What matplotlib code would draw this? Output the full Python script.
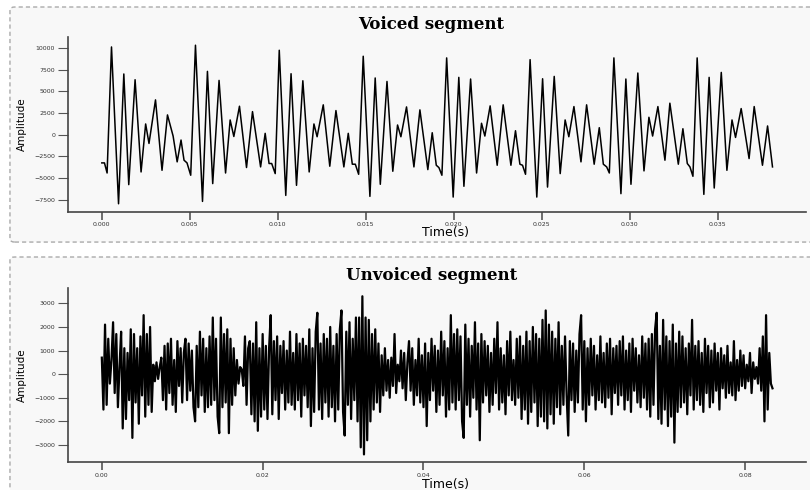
import numpy as np
import matplotlib
matplotlib.use('Agg')
import matplotlib.pyplot as plt
from matplotlib.patches import FancyBboxPatch

# voiced segment: extrema (time in s, amplitude)
voiced_t = [0.00000, 0.00015, 0.00030, 0.00055, 0.00095, 0.00125, 0.00153, 0.00189, 0.00223, 0.00249,
            0.00268, 0.00305, 0.00342, 0.00373, 0.00405, 0.00428, 0.00450, 0.00467, 0.00484, 0.00505,
            0.00532, 0.00572, 0.00600, 0.00630, 0.00666, 0.00703, 0.00729, 0.00750, 0.00782, 0.00822,
            0.00856, 0.00902, 0.00928, 0.00950, 0.00965, 0.00985, 0.01008, 0.01045, 0.01075, 0.01106,
            0.01142, 0.01178, 0.01205, 0.01223, 0.01258, 0.01295, 0.01330, 0.01375, 0.01400, 0.01423,
            0.01440, 0.01459, 0.01485, 0.01523, 0.01553, 0.01582, 0.01620, 0.01653, 0.01680, 0.01699,
            0.01731, 0.01773, 0.01807, 0.01852, 0.01877, 0.01900, 0.01915, 0.01932, 0.01959, 0.01996,
            0.02028, 0.02057, 0.02095, 0.02129, 0.02157, 0.02176, 0.02206, 0.02246, 0.02280, 0.02324,
            0.02350, 0.02375, 0.02390, 0.02407, 0.02433, 0.02471, 0.02504, 0.02532, 0.02570, 0.02604,
            0.02632, 0.02653, 0.02682, 0.02722, 0.02754, 0.02797, 0.02826, 0.02849, 0.02868, 0.02883,
            0.02909, 0.02949, 0.02977, 0.03006, 0.03045, 0.03080, 0.03108, 0.03129, 0.03159, 0.03199,
            0.03227, 0.03275, 0.03301, 0.03326, 0.03341, 0.03358, 0.03382, 0.03420, 0.03450, 0.03479,
            0.03519, 0.03551, 0.03580, 0.03600, 0.03632, 0.03677, 0.03706, 0.03753, 0.03782, 0.03810]
voiced_amp = [-3240, -3240, -4400, 10100, -7940, 6990, -5740, 6330, -4280, 1240,
              -1000, 4010, -4090, 2280, -150, -3120, -610, -2930, -3240, -4660,
              10300, -7670, 7290, -5620, 6250, -4400, 1700, -200, 3280, -3770,
              2660, -3700, 160, -3310, -3310, -4470, 9720, -6980, 7020, -5820,
              6210, -4280, 1240, -230, 3440, -3620, 2780, -3700, 160, -3390,
              -3390, -4550, 9030, -7090, 6530, -5700, 6130, -4200, 1120, -230,
              3200, -3700, 2860, -4010, 230, -3510, -3780, -4660, 8840, -7170,
              6600, -5930, 6410, -4400, 1320, -150, 3320, -3510, 3440, -3510,
              460, -3390, -3510, -4550, 8640, -7170, 6440, -6020, 6710, -4470,
              1700, -230, 3240, -3120, 3440, -3390, 810, -3390, -3700, -4400,
              8840, -6780, 6410, -5700, 7100, -4160, 2010, -150, 3240, -2930,
              3630, -3390, 690, -3310, -3700, -4780, 8840, -6860, 6600, -6130,
              7170, -4090, 1700, -310, 3010, -2740, 3240, -3510, 1010, -3700]

# unvoiced segment: one value every 0.2 ms
unvoiced_step = 0.0002
unvoiced_amp = [
    700, -1500, 2100, -1300, 1500, -400, 600, 2200, -800, 1700, -1400, 300, 1800, -2300, 1100, -1900, 900, -1100, 1900, -2700,
    1700, -1200, 1100, -2100, 1600, -900, 2500, -1800, 1700, -1300, 2000, -1600, 400, -300, 500, -200, 300, 700, -1100, 1200,
    -1500, 1300, -800, 1500, -1300, 600, -1600, 1400, -500, 1100, -1200, 900, 1500, -1100, 1300, -700, 1000, -1400, -2000, 1200,
    -1400, 1800, -900, 1500, -1600, 1100, -1400, 1600, -1300, 2400, -1100, 1500, -1800, -2500, 2400, -1400, 1700, -1200, 1900, -2500,
    1500, -1300, 1100, -900, 600, -400, 300, 200, -500, 1600, -1300, 1100, 1400, -1700, 1300, -2000, 2200, -2400, 1100, -1800,
    1700, -1500, 1200, -1900, 1100, 2500, -1700, 1400, -1100, 1600, -1900, 1200, -800, 1400, -1500, 1000, -1200, 1800, -1300, 900,
    -1500, 1700, -1100, 1300, -1800, 1500, -900, 1200, -1400, 1900, -2200, 1100, -1600, 1800, 2600, -1500, 1300, -1900, 1700, -1200,
    1500, -1800, 2000, -1400, 1200, -2000, 1700, -1500, 1900, 2700, -1600, -2600, 1800, -1300, 2200, -1900, 1500, -1100, 2400, -2000,
    2400, -3100, 3300, -3400, 2400, -2800, 2300, -2000, 1700, -1500, 1900, -1200, 1300, -1600, 800, -900, 1100, -700, 600, -1000,
    700, -500, 1700, -800, 400, -300, 1000, -600, 900, -1100, 500, 1400, -700, 1100, -1300, 600, -900, 1500, -1200, 800,
    -1400, 1300, -2200, 900, -1100, 1500, -700, 1200, -1600, 1000, -1300, 1800, -900, 1400, -1800, 1100, -1500, 2500, -1200, 1700,
    -1500, 1900, -1100, 1600, -2000, -2700, 2100, -1300, 1500, -1800, 1200, -1000, 2200, -1500, 1300, -2800, 1700, -1200, 1400, -900,
    1200, -1600, 900, -1300, 1500, -800, 2200, -1500, 1100, -1200, 800, -1700, 1400, -900, 1800, -1100, 600, -1300, 1500, -1000,
    1600, -1900, 1200, -1500, 1800, -2100, 1400, -1600, 2000, -1200, 1700, -2200, 1500, -1800, 2300, -2000, 2700, -2300, 2100, -1700,
    1800, -2100, 1500, -1400, 2200, -1700, 1200, -1300, 1600, -900, -2600, 1400, -1100, 1300, -1600, 1000, -1200, 1700, 2500, -1500,
    1400, -2000, 1100, -1300, 1500, -900, 1200, -1500, 800, -1100, 1600, -1200, 900, -1400, 1300, -1000, 1500, -1700, 1100, -800,
    1200, -1300, 1400, -900, 1600, -1500, 1000, -1100, 1300, -1600, 1500, -700, 1100, -1200, 800, -1400, 1600, -1000, 1300, -1500,
    1500, -1800, 1700, -1300, 1900, 2600, -1900, 1200, -2100, 2300, -1500, 1600, -2200, 1400, -1800, 2100, -2900, 1300, -1600, 1800,
    -1400, 1600, -1200, 1100, -1700, 1300, -900, 2300, -1500, 1200, -1100, 1400, -1300, 900, -1600, 1500, -800, 1200, -1400, 1000,
    -1200, 1300, -700, 900, -1500, 1100, -600, 800, -1000, 1200, -800, 500, -900, 1400, -1100, 600, -700, 1000, -500, 800,
    -600, 400, -300, 900, -800, 500, -200, 300, -400, 1100, -700, 1600, -2000, 2500, -1500, 900, -400, -600]
unvoiced_t = np.arange(len(unvoiced_amp)) * unvoiced_step

voiced_xticks = [0.000, 0.005, 0.010, 0.015, 0.020, 0.025, 0.030, 0.035]
voiced_yticks = [-7500, -5000, -2500, 0, 2500, 5000, 7500, 10000]
unvoiced_xticks = [0.00, 0.02, 0.04, 0.06, 0.08]
unvoiced_yticks = [-3000, -2000, -1000, 0, 1000, 2000, 3000]

fig = plt.figure(figsize=(8.1, 4.9), dpi=100)

# dashed panel frames, drawn behind the axes
for y0, h in [(0.506, 0.4797), (-0.05, 0.5255)]:
    fig.patches.append(FancyBboxPatch((0.0123, y0), 1.0, h,
                                      boxstyle='round,pad=0,rounding_size=0.006',
                                      transform=fig.transFigure, fc='#f8f8f8', ec='#aaaaaa',
                                      ls=(0, (3, 2.2)), lw=1, zorder=-5))


def style(ax, title, xticks, yticks, xfmt, xlab_y):
    ax.set_facecolor('none')
    for s in ['top', 'right']:
        ax.spines[s].set_visible(False)
    for s in ['left', 'bottom']:
        ax.spines[s].set_color('#444444')
        ax.spines[s].set_linewidth(1.2)
    ax.set_xticks(xticks)
    ax.set_xticklabels([xfmt % x for x in xticks])
    ax.set_yticks(yticks)
    ax.tick_params(axis='x', length=6, width=1.2, labelsize=4.5, pad=1.5, color='#555555', labelcolor='#333333')
    ax.tick_params(axis='y', length=7.5, width=0.8, labelsize=4.5, pad=2, color='#555555', labelcolor='#333333')
    ax.set_title(title, fontfamily='DejaVu Serif', fontweight='bold', fontsize=12, pad=6)
    ax.title.set_x(0.492)
    ax.set_ylabel('Amplitude', fontsize=7.5)
    ax.yaxis.set_label_coords(-0.056, 0.5)
    ax.set_xlabel('Time(s)', fontsize=9)
    ax.xaxis.set_label_coords(0.511, xlab_y)


ax1 = fig.add_axes([0.0843, 0.568, 0.9108, 0.3559])
ax1.plot(voiced_t, voiced_amp, color='black', lw=1.1)
style(ax1, 'Voiced segment', voiced_xticks, voiced_yticks, '%.3f', -0.082)

ax2 = fig.add_axes([0.0843, 0.0565, 0.9108, 0.355])
ax2.plot(unvoiced_t, unvoiced_amp, color='black', lw=1.6)
style(ax2, 'Unvoiced segment', unvoiced_xticks, unvoiced_yticks, '%.2f', -0.092)

fig.savefig('out.png', dpi=100)
